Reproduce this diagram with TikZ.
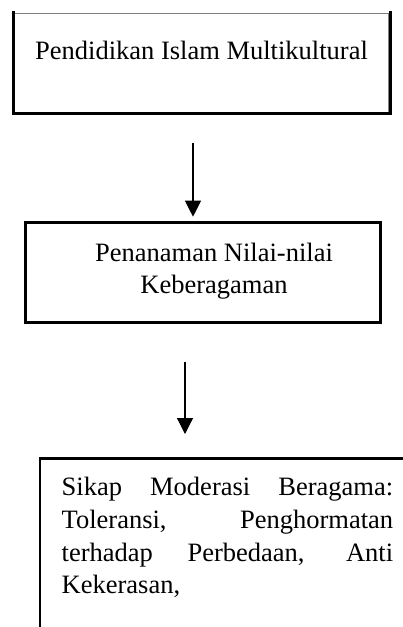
\documentclass[tikz,border=0pt]{standalone}
\usepackage{fontspec}
\setmainfont{Liberation Serif}
\usetikzlibrary{arrows.meta}
\begin{document}
\begin{tikzpicture}[x=1pt,y=-1pt,
  txt/.style={font=\fontsize{26.5}{32}\selectfont, inner sep=0pt, anchor=base},
  ltxt/.style={txt, anchor=base west},
  flow/.style={line width=1.2pt, -{Triangle[length=16pt,width=16pt]}},
  heavy/.style={line width=2.6pt},
  boxstyle/.style={draw, heavy, inner sep=0pt, outer sep=0pt, anchor=north west}]
\useasboundingbox[fill=white] (0,0) rectangle (403,627);

% box 1
\node[draw=gray, line width=0.8pt, inner sep=0pt, outer sep=0pt, anchor=north west,
      minimum width=374.5pt, minimum height=99.5pt] (b1) at (13.5,13.3) {};
\draw[heavy, line join=miter] (13.7,11) -- (13.7,113.7) -- (390.5,113.7) -- (390.5,11);
\node[txt] (t1) at (201.5,59) {Pendidikan Islam Multikultural};

% arrow 1
\coordinate (a1s) at (193,143);
\coordinate (a1e) at (193,216.7);
\draw[flow] (a1s) -- (a1e);

% box 2
\node[boxstyle, minimum width=355pt, minimum height=100pt] (b2) at (25.3,222.3) {};
\node[txt] (t2a) at (214,261.7) {Penanaman Nilai-nilai};
\node[txt] (t2b) at (214,293) {Keberagaman};

% arrow 2
\coordinate (a2s) at (185,362);
\coordinate (a2e) at (185,434);
\draw[flow] (a2s) -- (a2e);

% box 3 (cut off at right and bottom)
\draw[heavy, line join=miter] (40,632) -- (40,458.7) -- (408,458.7);
\node[ltxt] (t3a) at (61.5,495) {\makebox[331.5pt][s]{Sikap Moderasi Beragama:}};
\node[ltxt] (t3b) at (61.5,528) {\makebox[331.5pt][s]{Toleransi, Penghormatan}};
\node[ltxt] (t3c) at (61.5,561) {\makebox[331.5pt][s]{terhadap Perbedaan, Anti}};
\node[ltxt] (t3d) at (61.5,593) {Kekerasan,};
\end{tikzpicture}
\end{document}
